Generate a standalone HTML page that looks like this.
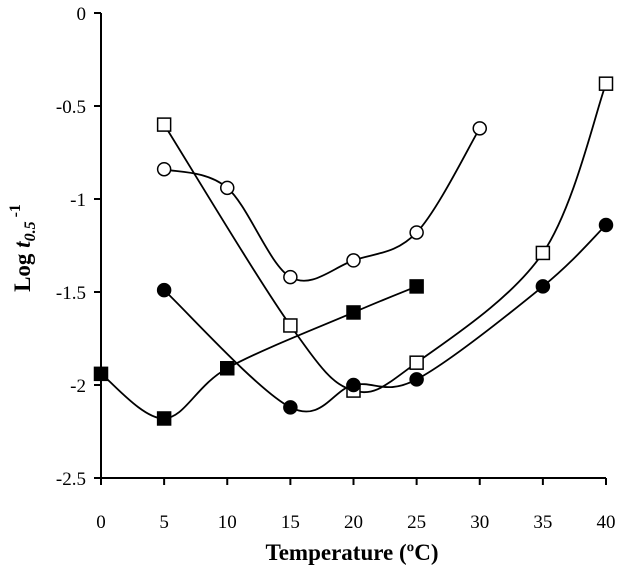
<!DOCTYPE html>
<html><head><meta charset="utf-8"><style>
body{margin:0;background:#fff}
svg text{font-family:"Liberation Serif",serif;fill:#000}
</style></head><body>
<svg width="617" height="575" viewBox="0 0 617 575" xmlns="http://www.w3.org/2000/svg">
<g id="axes"></g>
<g id="series"></g>
<text x="352" y="560" text-anchor="middle" font-size="23" font-weight="bold">Temperature (ºC)</text>
<text transform="translate(30,248) rotate(-90)" text-anchor="middle" font-size="23" font-weight="bold">Log <tspan font-style="italic">t</tspan><tspan font-style="italic" font-size="16" dy="5">0.5</tspan><tspan font-size="16" dy="-15"> -1</tspan></text>
</svg>
<script>
const xTicks=[0,5,10,15,20,25,30,35,40];
const yTicks=[0,-0.5,-1,-1.5,-2,-2.5];
const yTickLabels=["0","-0.5","-1","-1.5","-2","-2.5"];
const openSqX=[5,15,20,25,35,40];
const openSqY=[-0.6,-1.68,-2.03,-1.88,-1.29,-0.38];
const openCircX=[5,10,15,20,25,30];
const openCircY=[-0.84,-0.94,-1.42,-1.33,-1.18,-0.62];
const fillSqX=[0,5,10,20,25];
const fillSqY=[-1.94,-2.18,-1.91,-1.61,-1.47];
const fillCircX=[5,15,20,25,35,40];
const fillCircY=[-1.49,-2.12,-2.0,-1.97,-1.47,-1.14];

const NS="http://www.w3.org/2000/svg";
const sx=v=>101+v*(505/40);
const sy=v=>13+(-v)*(465/2.5);
function mk(tag,attrs,parent){const e=document.createElementNS(NS,tag);for(const k in attrs)e.setAttribute(k,attrs[k]);parent.appendChild(e);return e;}
const axes=document.getElementById('axes');
let l=mk('line',{x1:101,y1:13,x2:101,y2:478,stroke:'#000','stroke-width':2},axes);


l=mk('line',{x1:101,y1:478,x2:606,y2:478,stroke:'#000','stroke-width':2},axes);


xTicks.forEach(t=>{
 const tk=mk('line',{x1:sx(t),y1:478,x2:sx(t),y2:485,stroke:'#000','stroke-width':2},axes);
 
 
 const tx=mk('text',{x:sx(t),y:528,'text-anchor':'middle','font-size':19},axes);tx.textContent=t;
 
 
});
yTicks.forEach((t,i)=>{
 const tk=mk('line',{x1:94,y1:sy(t),x2:101,y2:sy(t),stroke:'#000','stroke-width':2},axes);
 
 
 const tx=mk('text',{x:86,y:sy(t)+7,'text-anchor':'end','font-size':19},axes);tx.textContent=yTickLabels[i];
 
 
});
function curve(xs,ys){
 const p=xs.map((x,i)=>[sx(x),sy(ys[i])]);
 let d=`M${p[0][0]},${p[0][1]}`;
 for(let i=0;i<p.length-1;i++){
  const p0=p[i-1]||p[i],p1=p[i],p2=p[i+1],p3=p[i+2]||p2;
  const c1=[p1[0]+(p2[0]-p0[0])/6,p1[1]+(p2[1]-p0[1])/6];
  const c2=[p2[0]-(p3[0]-p1[0])/6,p2[1]-(p3[1]-p1[1])/6];
  d+=` C${c1[0]},${c1[1]} ${c2[0]},${c2[1]} ${p2[0]},${p2[1]}`;
 }
 return d;
}
const sg=document.getElementById('series');
function series(name,xs,ys,shape,fill){
 const g=mk('g',{},sg);
 
 
 const path=mk('path',{d:curve(xs,ys),fill:'none',stroke:'#000','stroke-width':1.8},g);
 
 
 xs.forEach((x,i)=>{
  const cx=sx(x),cy=sy(ys[i]);let m;
  if(shape==='sq')m=mk('rect',{x:cx-6.5,y:cy-6.5,width:13,height:13,fill:fill,stroke:'#000','stroke-width':1.5},g);
  else m=mk('circle',{cx:cx,cy:cy,r:6.5,fill:fill,stroke:'#000','stroke-width':1.5},g);
  
  
 });
}
series('open-square-series',openSqX,openSqY,'sq','#fff');
series('open-circle-series',openCircX,openCircY,'c','#fff');
series('filled-square-series',fillSqX,fillSqY,'sq','#000');
series('filled-circle-series',fillCircX,fillCircY,'c','#000');
</script>
</body></html>
